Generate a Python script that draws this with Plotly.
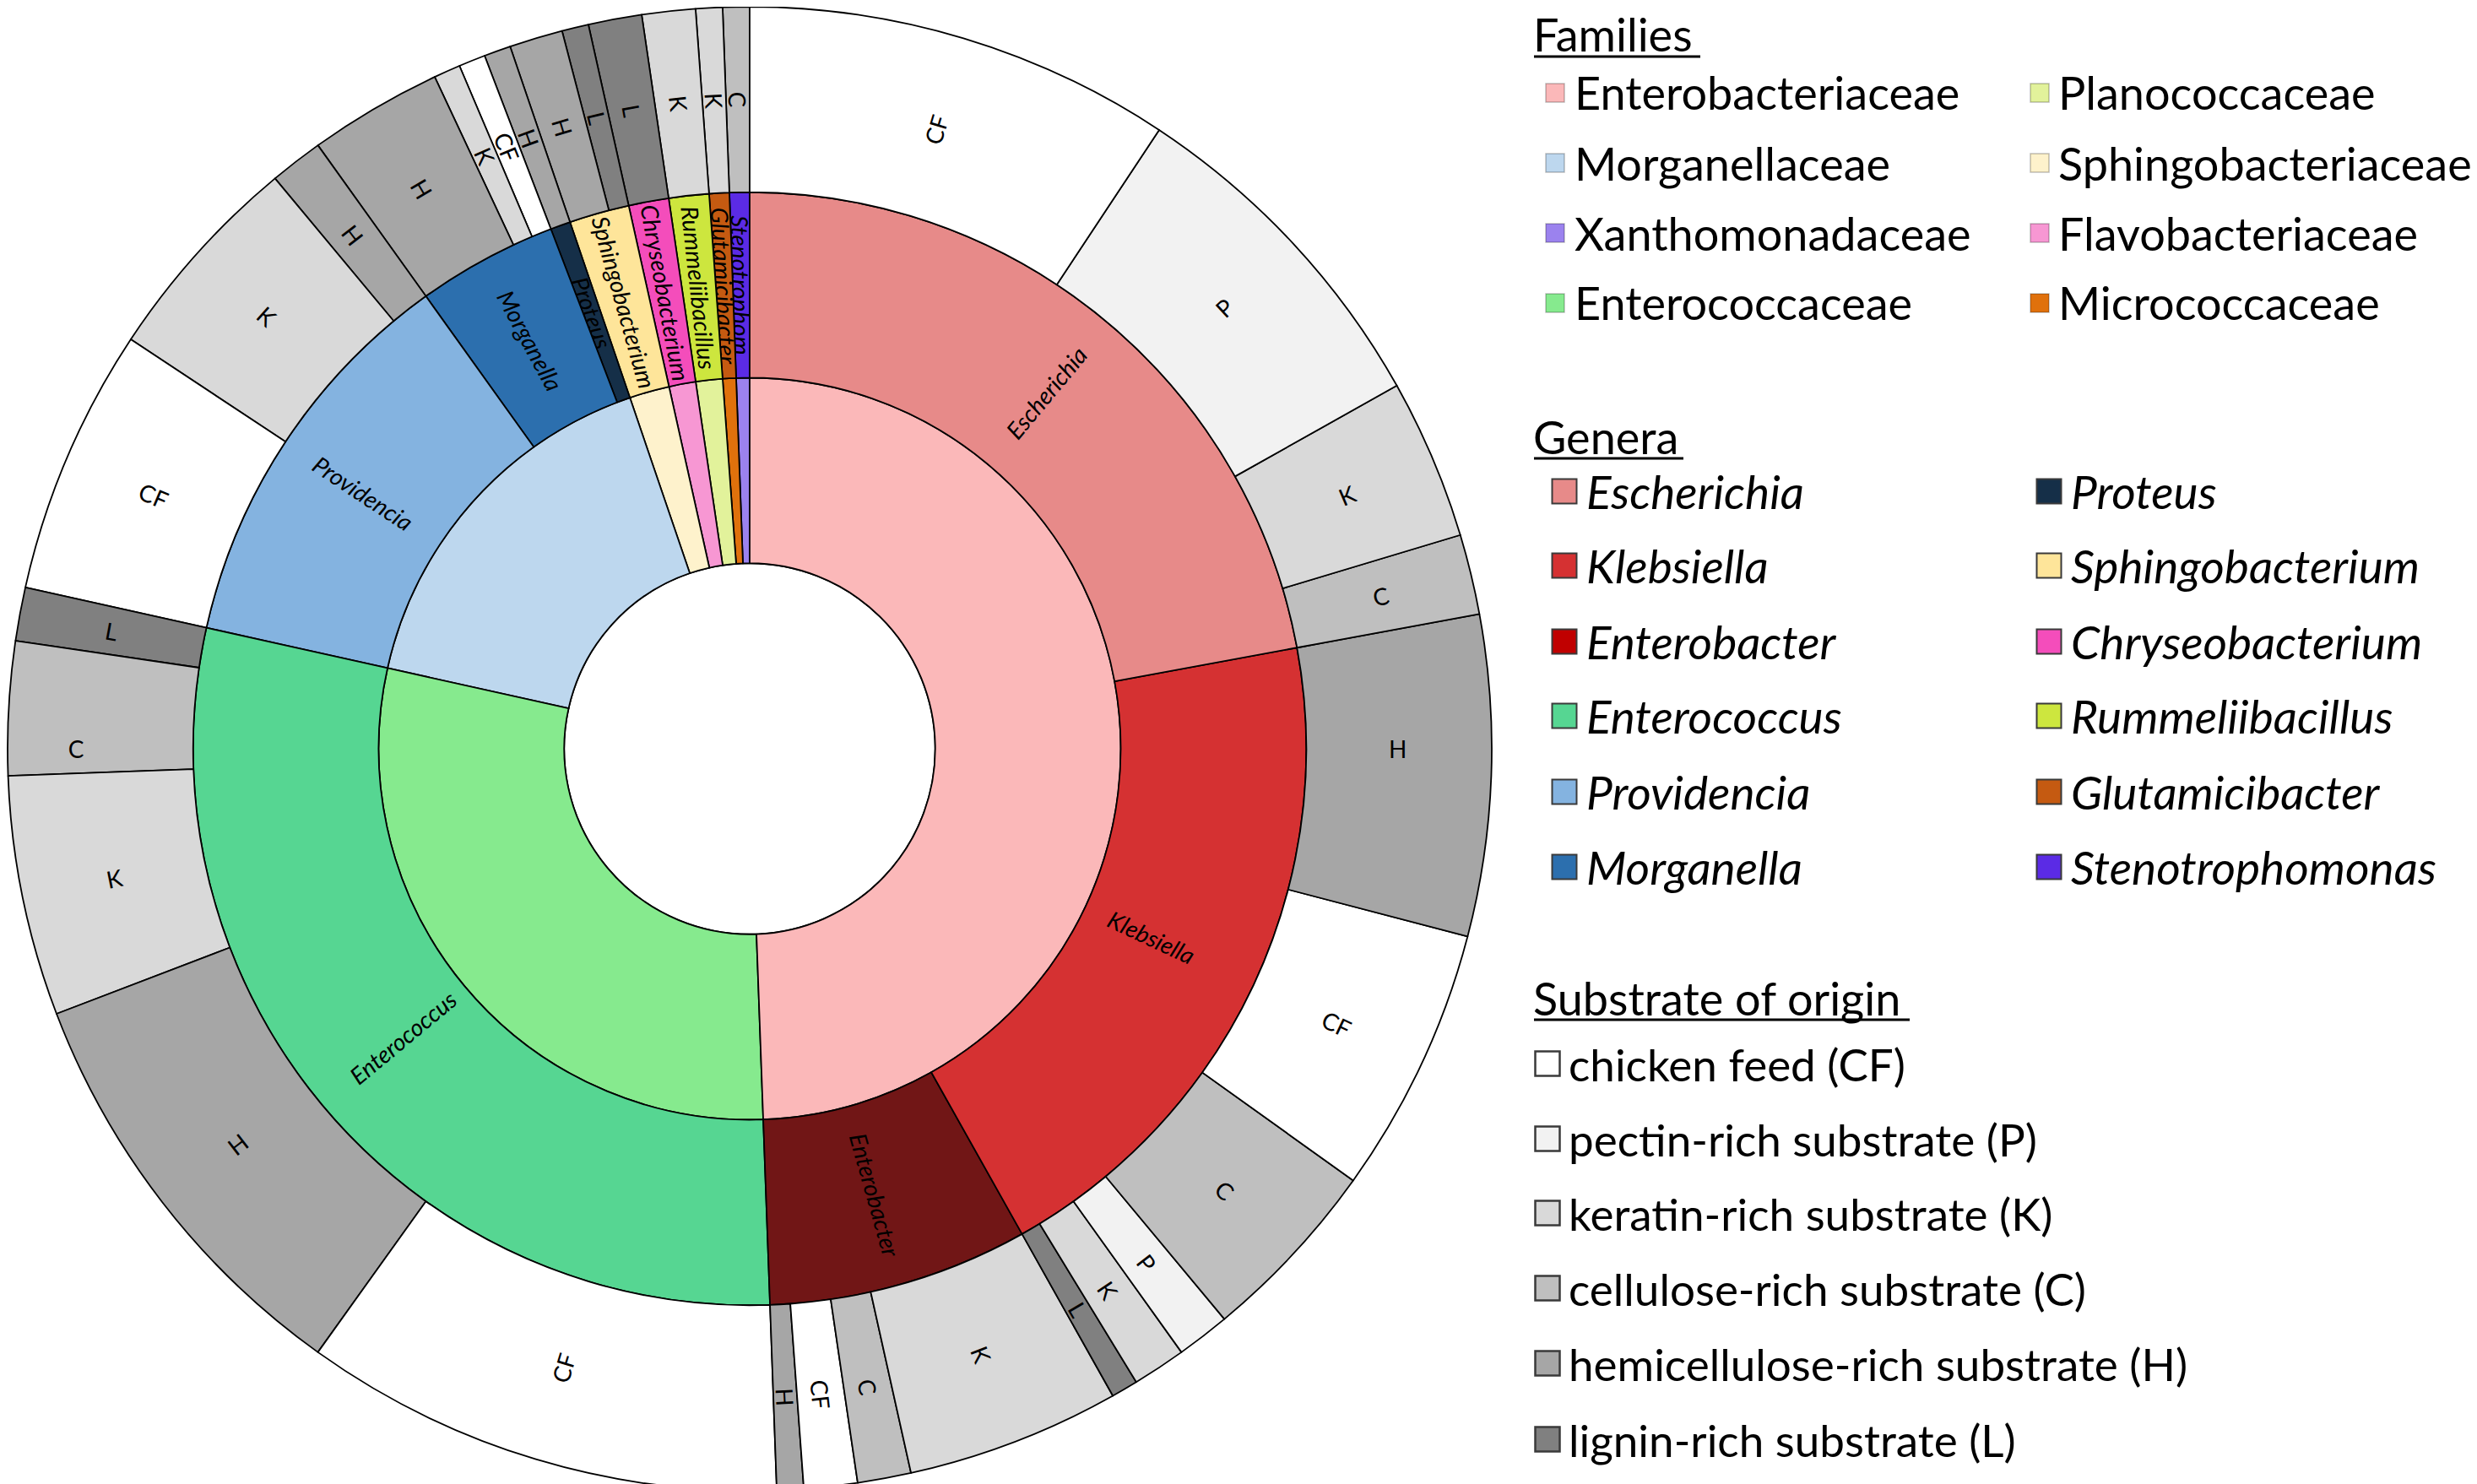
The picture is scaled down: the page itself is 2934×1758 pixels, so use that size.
import math
import plotly.graph_objects as go

# ---------------- data ----------------
families = ["Enterobacteriaceae", "Enterococcaceae", "Morganellaceae", "Sphingobacteriaceae",
            "Flavobacteriaceae", "Planococcaceae", "Micrococcaceae", "Xanthomonadaceae"]
family_colors = ["#FBB8B9", "#86EA8E", "#BDD7EE", "#FEF2CC",
                 "#F797D3", "#E2F29B", "#E0710C", "#9B82EE"]

genera = ["Escherichia", "Klebsiella", "Enterobacter", "Enterococcus", "Providencia", "Morganella",
          "Proteus", "Sphingobacterium", "Chryseobacterium", "Rummeliibacillus", "Glutamicibacter",
          "Stenotrophomonas"]
genus_family = ["Enterobacteriaceae", "Enterobacteriaceae", "Enterobacteriaceae", "Enterococcaceae",
                "Morganellaceae", "Morganellaceae", "Morganellaceae", "Sphingobacteriaceae",
                "Flavobacteriaceae", "Planococcaceae", "Micrococcaceae", "Xanthomonadaceae"]
genus_colors = ["#E78A89", "#D53132", "#711616", "#56D692", "#84B3E0", "#2C6FAE",
                "#152F48", "#FEE59A", "#F44DBB", "#CDE63E", "#C55A11", "#5B2BE5"]
genus_legend_colors = ["#E78A89", "#D53132", "#C00000", "#56D692", "#84B3E0", "#2C6FAE",
                       "#152F48", "#FEE59A", "#F44DBB", "#CDE63E", "#C55A11", "#5B2BE5"]
# label as visible in the ring (the last one is cut off in the original figure)
genus_ring_text = ["Escherichia", "Klebsiella", "Enterobacter", "Enterococcus", "Providencia", "Morganella",
                   "Proteus", "Sphingobacterium", "Chryseobacterium", "Rummeliibacillus", "Glutamicibacter",
                   "Stenotrophom"]

substrate_codes = ["CF", "P", "K", "C", "H", "L"]
substrate_names = ["chicken feed (CF)", "pectin-rich substrate (P)", "keratin-rich substrate (K)",
                   "cellulose-rich substrate (C)", "hemicellulose-rich substrate (H)", "lignin-rich substrate (L)"]
substrate_colors = ["#FFFFFF", "#F2F2F2", "#D9D9D9", "#BFBFBF", "#A6A6A6", "#808080"]

# number of isolates per genus and substrate (clockwise order from 12 o'clock)
iso_genus = ["Escherichia"] * 4 + ["Klebsiella"] * 6 + ["Enterobacter"] * 4 + ["Enterococcus"] * 5 + \
            ["Providencia"] * 3 + ["Morganella"] * 3 + ["Proteus"] + ["Sphingobacterium"] * 2 + \
            ["Chryseobacterium", "Rummeliibacillus", "Glutamicibacter", "Stenotrophomonas"]
iso_substrate = ["CF", "P", "K", "C",
                 "H", "CF", "C", "P", "K", "L",
                 "K", "C", "CF", "H",
                 "CF", "H", "K", "C", "L",
                 "CF", "K", "H",
                 "H", "K", "CF",
                 "H",
                 "H", "L",
                 "L", "K", "K", "C"]
iso_count = [16, 13, 6, 3,
             12, 10, 7, 2, 2, 1,
             8, 2, 2, 1,
             18, 16, 9, 5, 2,
             10, 8, 2,
             5, 1, 1,
             1,
             2, 1,
             2, 2, 1, 1]

# ---------------- build hierarchy ----------------
genus_total = {g: 0 for g in genera}
for g, n in zip(iso_genus, iso_count):
    genus_total[g] += n
family_total = {f: 0 for f in families}
for g, f in zip(genera, genus_family):
    family_total[f] += genus_total[g]
grand_total = sum(iso_count)

# text helpers: non-breaking padding lets plotly centre small labels radially in their ring,
# blank lines keep big labels on the middle of their sector
NB = "\u00a0"
NB_EM = 0.193          # width of a no-break space (em)


def outer_text(s, n):
    """pad a substrate code just enough for plotly to centre it radially in the outer ring"""
    half = math.pi * n / grand_total
    c = 1 / (2 * math.tan(half))
    need_em = 1.2 * 1.2 * c / 3          # required text length (em) for ring-limited fitting
    have_em = 0.6 * len(s)
    k = max(0, math.ceil((need_em - have_em) / 2 / NB_EM))
    return NB * k + s + NB * k


def centred_block(t):
    return (NB + "<br>") * 4 + t + ("<br>" + NB) * 4


genus_text = {}
cum = 0
for g, t in zip(genera, genus_ring_text):
    a0 = cum / grand_total * 360
    cum += genus_total[g]
    a1 = cum / grand_total * 360
    lab = "<i>" + t + "</i>"
    if genus_total[g] <= 3:
        genus_text[g] = NB * 38 + lab + NB * 38
    elif (a0 < 90 < a1) or (a0 < 270 < a1):
        genus_text[g] = centred_block(lab)
    else:
        genus_text[g] = lab

ids, labels, parents, values, colors, texts = [], [], [], [], [], []
ids.append("root"); labels.append(""); parents.append(""); values.append(grand_total)
colors.append("#FFFFFF"); texts.append("")
# plotly lays sectors out counter-clockwise, so feed everything in reverse order
for f, c in reversed(list(zip(families, family_colors))):
    ids.append(f); labels.append(f); parents.append("root"); values.append(family_total[f])
    colors.append(c); texts.append("")
for g, f, c in reversed(list(zip(genera, genus_family, genus_colors))):
    ids.append(f + "/" + g); labels.append(g); parents.append(f); values.append(genus_total[g])
    colors.append(c); texts.append(genus_text[g])
sub_col = dict(zip(substrate_codes, substrate_colors))
gen_fam = dict(zip(genera, genus_family))
for i, (g, s, n) in reversed(list(enumerate(zip(iso_genus, iso_substrate, iso_count)))):
    ids.append(f"{gen_fam[g]}/{g}/{s}/{i}"); labels.append(s); parents.append(gen_fam[g] + "/" + g)
    values.append(n); colors.append(sub_col[s]); texts.append(outer_text(s, n))

W, H = 2934, 1758
FONT = "Lato"

fig = go.Figure(go.Sunburst(
    ids=ids, labels=labels, parents=parents, values=values, branchvalues="total",
    sort=False, rotation=90,
    marker=dict(colors=colors, line=dict(color="#000000", width=1.8)),
    leaf=dict(opacity=1),
    text=texts, textinfo="text", insidetextorientation="radial",
    insidetextfont=dict(family=FONT, size=28, color="#000000"),
    hoverinfo="skip",
    domain=dict(x=[0, 1760 / W], y=[0, 1]),
))


def X(px):
    return px / W


def Y(py):
    return 1 - py / H


annotations, shapes = [], []
DY = -9   # global vertical nudge of the legend block
DX = -6


def header(text, x, yc, ul_y, ul_x1, size):
    annotations.append(dict(x=X(x + DX), y=Y(yc + DY), xref="paper", yref="paper", text=text, showarrow=False,
                            xanchor="left", yanchor="middle",
                            font=dict(family=FONT, size=size, color="#000000")))
    shapes.append(dict(type="line", xref="paper", yref="paper", x0=X(x + DX + 3), x1=X(ul_x1 + DX),
                       y0=Y(ul_y + DY), y1=Y(ul_y + DY), line=dict(color="#000000", width=3)))


def entry(text, sx, y, size, fill, border, bw, tx, fsize):
    shapes.append(dict(type="rect", xref="paper", yref="paper",
                       x0=X(sx + DX - size / 2), x1=X(sx + DX + size / 2),
                       y0=Y(y + DY - size / 2), y1=Y(y + DY + size / 2),
                       fillcolor=fill, line=dict(color=border, width=bw)))
    annotations.append(dict(x=X(tx + DX), y=Y(y + DY), xref="paper", yref="paper", text=text, showarrow=False,
                            xanchor="left", yanchor="middle",
                            font=dict(family=FONT, size=fsize, color="#000000")))


# Families legend (two columns, column-major)
header("Families", 1812, 42, 68, 2012, 54)
fam_order = ["Enterobacteriaceae", "Morganellaceae", "Xanthomonadaceae", "Enterococcaceae",
             "Planococcaceae", "Sphingobacteriaceae", "Flavobacteriaceae", "Micrococcaceae"]
fam_col = dict(zip(families, family_colors))
fam_rows = [111, 194, 277, 360]
for k, f in enumerate(fam_order):
    col, row = divmod(k, 4)
    sx = [1840, 2414][col]
    tx = [1861, 2434][col]
    entry(f, sx, fam_rows[row], 22, fam_col[f], "rgba(0,0,0,0.25)", 1.5, tx, 54)

# Genera legend
header("Genera", 1812, 518, 544, 1992, 54)
gen_rows = [583, 671, 761, 849, 939, 1028]
for k, (g, c) in enumerate(zip(genera, genus_legend_colors)):
    col, row = divmod(k, 6)
    sx = [1851, 2425][col]
    tx = [1875, 2449][col]
    entry("<i>" + g + "</i>", sx, gen_rows[row], 29, c, "#3A3A3A", 2, tx, 55)

# Substrate legend
header("Substrate of origin", 1812, 1183, 1209, 2260, 54)
sub_rows = [1261, 1350, 1438, 1527, 1616, 1706]
for k, (nme, c) in enumerate(zip(substrate_names, substrate_colors)):
    entry(nme, 1831, sub_rows[k], 29, c, "#3A3A3A", 2.5, 1854, 53)

fig.update_layout(
    width=W, height=H, autosize=False,
    margin=dict(l=0, r=0, t=0, b=0),
    paper_bgcolor="#FFFFFF", plot_bgcolor="#FFFFFF",
    uniformtext=dict(minsize=28, mode="show"),
    annotations=annotations, shapes=shapes,
    showlegend=False,
)

fig.write_html("out.html")
